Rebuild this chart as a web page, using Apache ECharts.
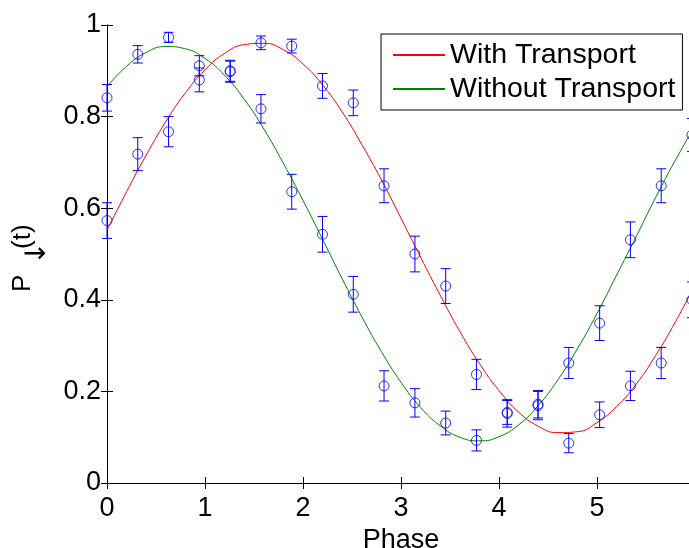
<!DOCTYPE html>
<html>
<head>
<meta charset="utf-8" />
<title>Phase scan</title>
<script src="https://cdn.jsdelivr.net/npm/echarts@6/dist/echarts.min.js"></script>
<style>
html, body { margin: 0; padding: 0; background: #fff; }
#main { width: 689px; height: 548px; }
</style>
</head>
<body>
<div id="main"></div>
<script>
// measured points (phase in steps of pi/10)
var phase = [0, 0.314, 0.628, 0.942, 1.257, 1.571, 1.885, 2.199, 2.513, 2.827,
             3.142, 3.456, 3.770, 4.084, 4.398, 4.712, 5.027, 5.341, 5.655, 5.969];

var withVals = [0.573, 0.718, 0.767, 0.880, 0.898, 0.961, 0.954, 0.867, 0.830, 0.649,
                0.500, 0.430, 0.237, 0.154, 0.172, 0.087, 0.149, 0.212, 0.262, 0.400];
var withErr  = [0.039, 0.036, 0.033, 0.026, 0.023, 0.015, 0.015, 0.027, 0.028, 0.037,
                0.039, 0.038, 0.033, 0.026, 0.030, 0.021, 0.028, 0.032, 0.034, 0.039];

var withoutVals = [0.841, 0.936, 0.973, 0.911, 0.900, 0.817, 0.636, 0.543, 0.412, 0.212,
                   0.175, 0.131, 0.093, 0.152, 0.169, 0.262, 0.349, 0.531, 0.649, 0.760];
var withoutErr  = [0.029, 0.019, 0.011, 0.022, 0.023, 0.031, 0.038, 0.039, 0.039, 0.033,
                   0.031, 0.026, 0.023, 0.030, 0.031, 0.034, 0.038, 0.039, 0.037, 0.036];

// fitted curves, every 0.2
var curveX = [0, 0.2, 0.4, 0.6, 0.8, 1.0, 1.2, 1.4, 1.6, 1.8, 2.0, 2.2, 2.4, 2.6, 2.8, 3.0,
              3.2, 3.4, 3.6, 3.8, 4.0, 4.2, 4.4, 4.6, 4.8, 5.0, 5.2, 5.4, 5.6, 5.8, 6.0];
var fitWith = [0.552, 0.636, 0.716, 0.789, 0.852, 0.902, 0.938, 0.957, 0.960, 0.946, 0.915,
               0.869, 0.810, 0.739, 0.662, 0.578, 0.493, 0.410, 0.331, 0.261, 0.202,
               0.155, 0.124, 0.110, 0.112, 0.132, 0.167, 0.216, 0.279, 0.352, 0.433];
var fitWithout = [0.865, 0.910, 0.940, 0.953, 0.948, 0.927, 0.890, 0.838, 0.773, 0.698, 0.617,
                  0.532, 0.446, 0.363, 0.287, 0.220, 0.165, 0.125, 0.100, 0.092, 0.101,
                  0.127, 0.169, 0.225, 0.293, 0.370, 0.454, 0.538, 0.624, 0.705, 0.779];

var xTicks = [0, 1, 2, 3, 4, 5];

function pairs(xs, ys) {
  return xs.map(function (x, i) { return [x, ys[i]]; });
}
function triples(xs, ys, es) {
  return xs.map(function (x, i) { return [x, ys[i], es[i]]; });
}

var font = 'Liberation Sans, Arial, sans-serif';
var blue = '#0000ff';

function errorBars(params, api) {
  var x = api.value(0), y = api.value(1), e = api.value(2);
  var hi = api.coord([x, y + e]);
  var lo = api.coord([x, y - e]);
  var w = 5;
  var st = { stroke: blue, lineWidth: 1 };
  return {
    type: 'group',
    children: [
      { type: 'line', shape: { x1: hi[0], y1: hi[1], x2: lo[0], y2: lo[1] }, style: st },
      { type: 'line', shape: { x1: hi[0] - w, y1: hi[1], x2: hi[0] + w, y2: hi[1] }, style: st },
      { type: 'line', shape: { x1: lo[0] - w, y1: lo[1], x2: lo[0] + w, y2: lo[1] }, style: st }
    ]
  };
}

var tickStyle = { show: true, inside: true, length: 6, lineStyle: { color: '#000', width: 1 } };
var lineStyleAxis = { show: true, lineStyle: { color: '#000', width: 1 } };

var chart = echarts.init(document.getElementById('main'));
chart.setOption({
  animation: false,
  backgroundColor: '#fff',
  textStyle: { fontFamily: font },
  grid: { left: 107, right: -6, top: 25, bottom: 65, outerBoundsMode: 'none', containLabel: false },
  // y axis title P↓(t), arrow as a subscript
  graphic: [{
    type: 'group',
    x: 33,
    y: 292,
    rotation: Math.PI / 2,
    children: [
      { type: 'text', x: 0, y: -10,
        style: { text: 'P', font: '26px ' + font, fill: '#000', align: 'left', verticalAlign: 'middle' } },
      { type: 'text', x: 27, y: 5,
        style: { text: '↓', font: '28px DejaVu Sans, sans-serif', fill: '#000', align: 'left', verticalAlign: 'middle' } },
      { type: 'text', x: 43, y: -10,
        style: { text: '(t)', font: '26px ' + font, fill: '#000', align: 'left', verticalAlign: 'middle' } }
    ]
  }],
  legend: {
    data: ['With Transport', 'Without Transport'],
    orient: 'vertical',
    left: 381,
    top: 34,
    padding: [6, 7, 6, 11],
    itemGap: 4,
    itemWidth: 52,
    itemHeight: 2,
    backgroundColor: '#fff',
    borderColor: '#000',
    borderWidth: 1,
    borderRadius: 0,
    textStyle: { fontFamily: font, fontSize: 28.5, lineHeight: 30, color: '#000' }
  },
  xAxis: [{
    type: 'value',
    min: 0, max: 6, interval: 1,
    name: 'Phase',
    nameLocation: 'middle',
    nameGap: 36,
    nameTextStyle: { fontFamily: font, fontSize: 27, color: '#000' },
    axisLine: lineStyleAxis,
    axisTick: tickStyle,
    splitLine: { show: false },
    axisLabel: {
      fontFamily: font, fontSize: 27, color: '#000', margin: 12,
      formatter: function (v) { return xTicks.indexOf(v) >= 0 ? String(v) : ''; }
    }
  }, {
    type: 'value', position: 'top',
    min: 0, max: 6, interval: 1,
    axisLine: lineStyleAxis,
    axisTick: tickStyle,
    axisLabel: { show: false },
    splitLine: { show: false }
  }],
  yAxis: [{
    type: 'value',
    min: 0, max: 1, interval: 0.2,
    axisLine: lineStyleAxis,
    axisTick: tickStyle,
    splitLine: { show: false },
    axisLabel: { fontFamily: font, fontSize: 27, color: '#000', margin: 6 }
  }, {
    type: 'value', position: 'right',
    min: 0, max: 1, interval: 0.2,
    axisLine: lineStyleAxis,
    axisTick: tickStyle,
    axisLabel: { show: false },
    splitLine: { show: false }
  }],
  series: [{
    name: 'With Transport',
    type: 'line',
    data: pairs(curveX, fitWith),
    smooth: true,
    symbol: 'none',
    color: '#ff0000',
    lineStyle: { color: '#ff0000', width: 1 },
    z: 2
  }, {
    name: 'Without Transport',
    type: 'line',
    data: pairs(curveX, fitWithout),
    smooth: true,
    symbol: 'none',
    color: '#008000',
    lineStyle: { color: '#008000', width: 1 },
    z: 2
  }, {
    name: 'errWith',
    type: 'custom',
    renderItem: errorBars,
    encode: { x: 0, y: 1 },
    data: triples(phase, withVals, withErr),
    z: 3
  }, {
    name: 'errWithout',
    type: 'custom',
    renderItem: errorBars,
    encode: { x: 0, y: 1 },
    data: triples(phase, withoutVals, withoutErr),
    z: 3
  }, {
    name: 'ptsWith',
    type: 'scatter',
    data: pairs(phase, withVals),
    symbol: 'circle',
    symbolSize: 10,
    itemStyle: { color: 'rgba(0,0,0,0)', borderColor: blue, borderWidth: 1 },
    z: 4
  }, {
    name: 'ptsWithout',
    type: 'scatter',
    data: pairs(phase, withoutVals),
    symbol: 'circle',
    symbolSize: 10,
    itemStyle: { color: 'rgba(0,0,0,0)', borderColor: blue, borderWidth: 1 },
    z: 4
  }]
});
</script>
</body>
</html>
